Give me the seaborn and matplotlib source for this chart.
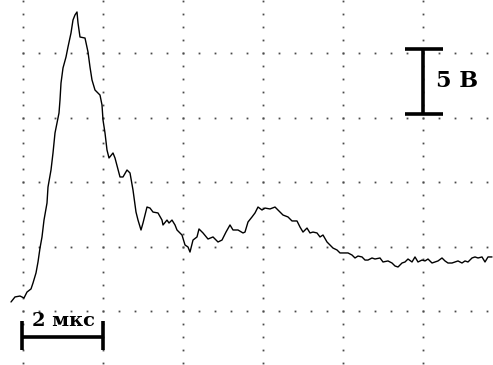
import numpy as np
import pandas as pd
import matplotlib
matplotlib.use("Agg")
import matplotlib.pyplot as plt
import seaborn as sns

# Oscillogram: time in microseconds, voltage in volts
time_us = [
    -0.30, -0.20, -0.075, 0.025, 0.10, 0.20, 0.25, 0.325, 0.375, 0.425,
    0.475, 0.525, 0.60, 0.625, 0.70, 0.75, 0.80, 0.85, 0.90, 0.925,
    0.95, 1.00, 1.075, 1.125, 1.20, 1.25, 1.30, 1.35, 1.375, 1.425,
    1.55, 1.625, 1.675, 1.725, 1.80, 1.925, 1.975, 2.00, 2.05, 2.10,
    2.15, 2.25, 2.30, 2.425, 2.50, 2.60, 2.675, 2.75, 2.825, 2.875,
    2.95, 3.00, 3.10, 3.175, 3.25, 3.375, 3.475, 3.50, 3.60, 3.65,
    3.725, 3.80, 3.85, 3.975, 4.05, 4.125, 4.175, 4.25, 4.35, 4.40,
    4.50, 4.625, 4.75, 4.875, 4.975, 5.075, 5.175, 5.25, 5.375, 5.50,
    5.55, 5.625, 5.725, 5.80, 5.875, 5.975, 6.05, 6.175, 6.30, 6.425,
    6.50, 6.625, 6.725, 6.85, 6.925, 7.00, 7.10, 7.175, 7.25, 7.35,
    7.425, 7.50, 7.60, 7.675, 7.75, 7.85, 7.925, 8.125, 8.225, 8.30,
    8.375, 8.475, 8.55, 8.625, 8.725, 8.80, 8.925, 9.00, 9.125, 9.225,
    9.30, 9.375, 9.475, 9.55, 9.625, 9.725, 9.80, 9.875, 9.975, 10.05,
    10.125, 10.225, 10.30, 10.375, 10.475, 10.55, 10.625, 10.725, 10.80, 10.875,
    10.975, 11.05, 11.125, 11.225, 11.30, 11.375, 11.475, 11.55, 11.625, 11.725,
]
voltage_v = [
    0.70, 1.09, 1.16, 1.01, 1.47, 1.71, 2.17, 2.95, 3.80, 4.88,
    5.74, 7.05, 8.37, 9.61, 10.93, 12.25, 13.80, 14.57, 15.35, 16.36,
    17.67, 18.84, 19.69, 20.47, 21.55, 22.56, 22.95, 23.18, 22.33, 21.24,
    21.16, 20.08, 18.91, 17.91, 17.13, 16.74, 15.97, 14.81, 13.80, 12.48,
    11.86, 12.25, 11.86, 10.39, 10.39, 10.93, 10.70, 9.38, 7.67, 7.05,
    6.28, 6.82, 8.06, 7.98, 7.67, 7.60, 7.05, 6.67, 7.05, 6.82,
    7.05, 6.67, 6.28, 5.89, 5.12, 4.96, 4.57, 5.50, 5.74, 6.36,
    6.05, 5.58, 5.74, 5.35, 5.50, 6.12, 6.67, 6.28, 6.28, 6.05,
    6.12, 6.90, 7.29, 7.60, 8.06, 7.83, 7.98, 7.91, 8.06, 7.67,
    7.44, 7.29, 6.98, 6.98, 6.51, 6.12, 6.43, 6.05, 6.12, 6.05,
    5.74, 5.89, 5.35, 5.12, 4.88, 4.73, 4.50, 4.50, 4.34, 4.11,
    4.26, 4.19, 3.95, 3.95, 4.11, 4.03, 4.11, 3.80, 3.88, 3.72,
    3.49, 3.41, 3.72, 3.80, 4.03, 3.80, 4.19, 3.80, 3.95, 3.88,
    4.03, 3.72, 3.80, 3.88, 4.11, 3.88, 3.72, 3.72, 3.80, 3.88,
    3.72, 3.88, 3.80, 4.11, 4.19, 4.11, 4.19, 3.80, 4.19, 4.19,
]

voltage_label = "5 В"
time_label = "2 мкс"

trace = pd.DataFrame({"t": time_us, "u": voltage_v})

sns.set_style("white")
fig = plt.figure(figsize=(4.93, 3.65), dpi=100)
ax = fig.add_axes([0, 0, 1, 1])
ax.set_xlim(-0.575, 11.75)
ax.set_ylim(-4.186, 24.109)
ax.set_axis_off()

# dotted graticule: 2 us x 5 V divisions, 5 ticks per division
dot_kw = dict(linestyle="none", marker="s", markersize=1.3, color="#4a4a4a",
              markeredgewidth=0)
row_x = np.arange(0, 11.65, 0.4)
for v in (0, 5, 10, 15, 20):
    ax.plot(row_x, np.full_like(row_x, v), **dot_kw)
col_y = np.arange(-4, 24.5, 1.0)
for t in (0, 2, 4, 6, 8, 10):
    ax.plot(np.full_like(col_y, t), col_y, **dot_kw)

# signal trace
sns.lineplot(data=trace, x="t", y="u", sort=False, estimator=None,
             color="black", linewidth=1.0, ax=ax)

# vertical scale bar: 5 V
bar_kw = dict(color="black", linewidth=2.6, solid_capstyle="butt")
ax.plot([10.0, 10.0], [15.3, 20.3], **bar_kw)
ax.plot([9.55, 10.5], [20.3, 20.3], **bar_kw)
ax.plot([9.55, 10.5], [15.3, 15.3], **bar_kw)
ax.text(10.33, 17.85, voltage_label, fontsize=16, fontweight="bold",
        family="DejaVu Serif", color="black", ha="left", va="center")

# horizontal scale bar: 2 us
ax.plot([-0.02, 2.0], [-2.0, -2.0], **bar_kw)
ax.plot([-0.02, -0.02], [-0.8, -3.0], **bar_kw)
ax.plot([2.0, 2.0], [-0.8, -3.0], **bar_kw)
ax.text(1.0, -1.15, time_label, fontsize=14, fontweight="bold",
        family="DejaVu Serif", color="black", ha="center", va="baseline")

fig.savefig("out.png", dpi=100)
